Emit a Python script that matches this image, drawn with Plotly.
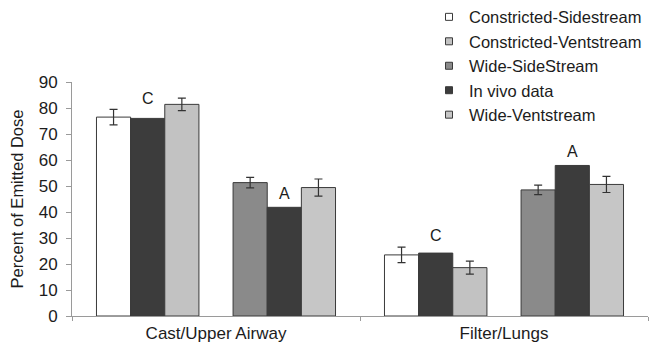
import plotly.graph_objects as go

categories = ["Cast/Upper Airway", "Filter/Lungs"]

constricted_side = [76.5, 23.5]
constricted_side_err = [3.0, 3.0]
constricted_vent = [81.4, 18.6]
constricted_vent_err = [2.4, 2.5]
wide_side = [51.3, 48.5]
wide_side_err = [2.0, 1.8]
wide_vent = [49.4, 50.6]
wide_vent_err = [3.3, 3.1]
invivo_constricted = [76.0, 24.2]
invivo_wide = [41.8, 57.9]

letters_constricted = ["C", "C"]
letters_wide = ["A", "A"]

legend_names = ["Constricted-Sidestream", "Constricted-Ventstream",
                "Wide-SideStream", "In vivo data", "Wide-Ventstream"]

FONT = "Liberation Sans, Arial, sans-serif"
TXT = "#1c1c1c"
c_white = "#ffffff"
c_cv = "#c2c2c2"
c_ws = "#8a8a8a"
c_iv = "#3c3c3c"
c_wv = "#c6c6c6"
edge = "#3a3a3a"

fig = go.Figure()

def bar(y, color, err=None, group=None):
    kw = dict(x=categories, y=y, marker=dict(color=color, line=dict(color=edge, width=1)),
              showlegend=False, offsetgroup=group, hoverinfo="skip")
    if err is not None:
        kw["error_y"] = dict(type="data", array=err, visible=True, color="#333333",
                             thickness=1.2, width=4)
    fig.add_trace(go.Bar(**kw))

bar(constricted_side, c_white, constricted_side_err, "g1")
bar(invivo_constricted, c_iv, None, "g2")
bar(constricted_vent, c_cv, constricted_vent_err, "g3")
fig.add_trace(go.Bar(x=categories, y=[None, None], offsetgroup="g4", showlegend=False,
                     marker=dict(line=dict(width=0))))
bar(wide_side, c_ws, wide_side_err, "g5")
bar(invivo_wide, c_iv, None, "g6")
bar(wide_vent, c_wv, wide_vent_err, "g7")

# legend entries
for name, col in zip(legend_names, [c_white, c_cv, c_ws, c_iv, c_wv]):
    fig.add_trace(go.Scatter(x=[None], y=[None], mode="markers", name=name,
                             marker=dict(symbol="square", size=7, color=col,
                                         line=dict(color=edge, width=1))))

BARGAP = 0.17
slot = 576 / 2 * (1 - BARGAP) / 7
for i, cat in enumerate(categories):
    fig.add_annotation(x=cat, y=max(invivo_constricted[i], constricted_side[i] + constricted_side_err[i]) + 4.3,
                       text=letters_constricted[i], showarrow=False, xshift=-slot * 2,
                       font=dict(family=FONT, size=16, color=TXT), yanchor="middle")
    fig.add_annotation(x=cat, y=invivo_wide[i] + 5.5,
                       text=letters_wide[i], showarrow=False, xshift=slot * 2,
                       font=dict(family=FONT, size=16, color=TXT), yanchor="middle")

fig.update_layout(
    width=656, height=345,
    margin=dict(l=64, r=16, t=74, b=37, autoexpand=False),
    paper_bgcolor="white", plot_bgcolor="white",
    barmode="group", bargap=BARGAP, bargroupgap=0,
    font=dict(family=FONT, size=17, color=TXT),
    legend=dict(x=(421 - 64) / 576, xanchor="left", y=1.352, yanchor="top",
                font=dict(family=FONT, size=16.5, color=TXT),
                bgcolor="rgba(0,0,0,0)", itemwidth=30,
                traceorder="normal"),
    xaxis=dict(showline=True, linecolor="#9a9a9a", linewidth=1,
               ticks="outside", tickson="boundaries", ticklen=4, tickcolor="#9a9a9a",
               ticklabelstandoff=2,
               tickfont=dict(family=FONT, size=17, color=TXT), showgrid=False),
    yaxis=dict(range=[0, 90], dtick=10, showline=True, linecolor="#9a9a9a", linewidth=1,
               ticks="outside", ticklen=5, tickcolor="#9a9a9a", showgrid=False, zeroline=False,
               ticklabelstandoff=5,
               tickfont=dict(family=FONT, size=17, color=TXT),
               title=dict(text="Percent of Emitted Dose", font=dict(family=FONT, size=16.5, color=TXT),
                          standoff=13)),
)

fig.write_html("out.html")
